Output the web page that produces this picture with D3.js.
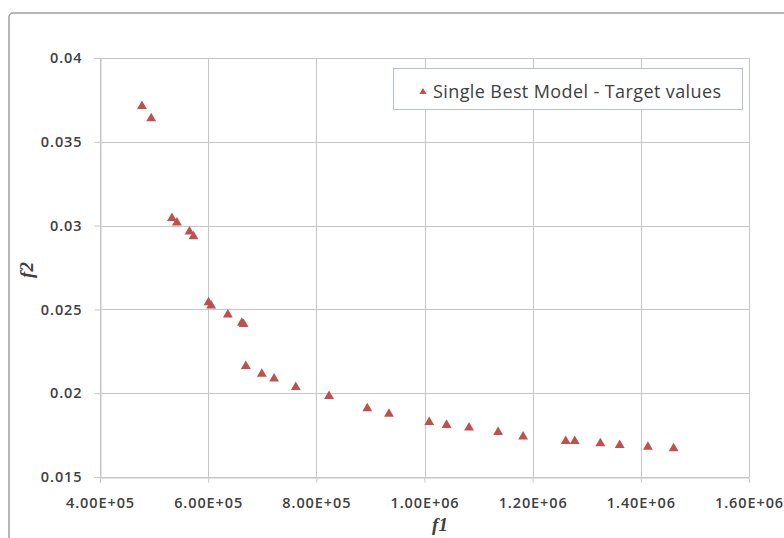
<!DOCTYPE html>
<html>
<head>
<meta charset="utf-8">
<script src="https://cdn.jsdelivr.net/npm/d3@7"></script>
<style>
  body { margin: 0; background: #fff; }
</style>
</head>
<body>
<div id="chart"></div>
<script>
// Pareto front values
const f1Values = [4.776e5, 4.947e5, 5.33e5, 5.422e5, 5.655e5, 5.729e5, 6.006e5, 6.055e5,
  6.364e5, 6.622e5, 6.655e5, 6.696e5, 6.992e5, 7.219e5, 7.62e5, 8.235e5, 8.942e5, 9.343e5,
  1.0087e6, 1.0408e6, 1.0824e6, 1.1361e6, 1.1823e6, 1.2611e6, 1.2778e6, 1.3252e6,
  1.3609e6, 1.4131e6, 1.4606e6];
const f2Values = [0.03713, 0.03639, 0.03044, 0.03018, 0.02964, 0.02935, 0.02542, 0.02522,
  0.02468, 0.02419, 0.02412, 0.02161, 0.02115, 0.02087, 0.02036, 0.01982, 0.01909, 0.01877,
  0.01827, 0.0181, 0.01794, 0.01768, 0.0174, 0.01714, 0.01714, 0.01701,
  0.0169, 0.01679, 0.01671];
const xTicks = [4e5, 6e5, 8e5, 1e6, 1.2e6, 1.4e6, 1.6e6];
const yTicks = [0.015, 0.02, 0.025, 0.03, 0.035, 0.04];
const seriesName = 'Single Best Model - Target values';

const width = 784, height = 538;
const margin = { top: 58, right: 35, bottom: 61, left: 100 };

const svg = d3.select('#chart').append('svg')
  .attr('width', width)
  .attr('height', height);

// outer chart frame
svg.append('rect')
  .attr('x', 9).attr('y', 13)
  .attr('width', 800).attr('height', 560)
  .attr('rx', 4)
  .attr('fill', '#fff')
  .attr('stroke', '#a0a0a0')
  .attr('stroke-width', 1.5);

const x = d3.scaleLinear()
  .domain([4e5, 1.6e6])
  .range([margin.left, width - margin.right]);
const y = d3.scaleLinear()
  .domain([0.015, 0.04])
  .range([height - margin.bottom, margin.top]);

const grid = svg.append('g');
grid.selectAll('.vg').data(xTicks).join('line')
  .attr('x1', d => Math.round(x(d)) + 0.5).attr('x2', d => Math.round(x(d)) + 0.5)
  .attr('y1', y(0.04)).attr('y2', y(0.015))
  .attr('stroke', '#c6c6c6');
grid.selectAll('.hg').data(yTicks).join('line')
  .attr('x1', x(4e5)).attr('x2', x(1.6e6))
  .attr('y1', d => Math.round(y(d)) + 0.5).attr('y2', d => Math.round(y(d)) + 0.5)
  .attr('stroke', '#c6c6c6');

const fmtX = d => d.toExponential(2).toUpperCase().replace(/E\+(\d)$/, 'E+0$1');

const xAxis = svg.append('g')
  .attr('transform', `translate(0,${Math.round(y(0.015)) + 0.5})`)
  .call(d3.axisBottom(x).tickValues(xTicks).tickFormat(fmtX).tickSize(5).tickPadding(15));
const yAxis = svg.append('g')
  .attr('transform', `translate(${Math.round(x(4e5)) + 0.5},0)`)
  .call(d3.axisLeft(y).tickValues(yTicks).tickFormat(d3.format('')).tickSize(6).tickPadding(12));

[xAxis, yAxis].forEach(a => {
  a.select('.domain').attr('stroke', '#c6c6c6');
  a.selectAll('.tick line').attr('stroke', '#c6c6c6');
  a.selectAll('.tick text')
    .attr('fill', '#404040')
    .style('font-family', '"Open Sans", sans-serif')
    .style('font-size', '14.5px')
    .style('font-weight', '600')
    .style('letter-spacing', '0.9px');
});

// axis titles
svg.append('text')
  .attr('x', 440).attr('y', 531)
  .attr('text-anchor', 'middle')
  .style('font-family', '"Liberation Serif", serif')
  .style('font-style', 'italic').style('font-weight', 'bold')
  .style('font-size', '19px')
  .attr('fill', '#404040')
  .text('f1');
svg.append('text')
  .attr('transform', 'translate(33,270) rotate(-90)')
  .attr('text-anchor', 'middle')
  .style('font-family', '"Liberation Serif", serif')
  .style('font-style', 'italic').style('font-weight', 'bold')
  .style('font-size', '19px')
  .attr('fill', '#404040')
  .text('f2');

const tri = d3.symbol().type(d3.symbolTriangle);
const color = '#c0504d';

const points = f1Values.map((v, i) => ({ f1: v, f2: f2Values[i] }));
svg.append('g').selectAll('path').data(points).join('path')
  .attr('d', tri.size(42)())
  .attr('transform', d => `translate(${x(d.f1)},${y(d.f2)})`)
  .attr('fill', color);

// legend
const lg = svg.append('g').attr('transform', 'translate(393,68)');
lg.append('rect')
  .attr('x', 0.5).attr('y', 0.5)
  .attr('width', 349).attr('height', 41)
  .attr('fill', '#fff')
  .attr('stroke', '#b8bfd0');
lg.append('path')
  .attr('d', tri.size(22)())
  .attr('transform', 'translate(30,24)')
  .attr('fill', color);
lg.append('text')
  .attr('x', 40).attr('y', 30)
  .style('font-family', '"Open Sans", sans-serif')
  .style('font-size', '18px')
  .style('letter-spacing', '0.4px')
  .attr('fill', '#404040')
  .text(seriesName);
</script>
</body>
</html>
